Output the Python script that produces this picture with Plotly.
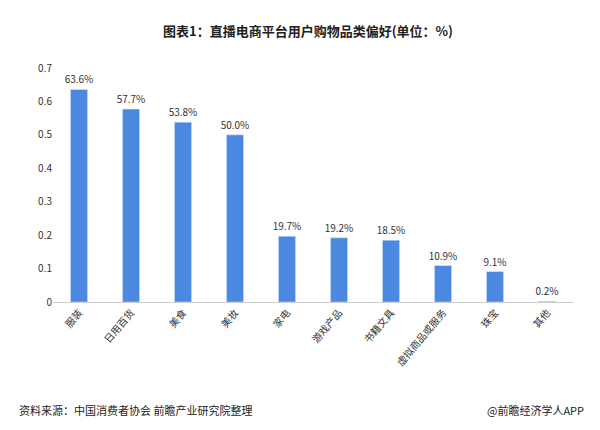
import plotly.graph_objects as go

categories = ["服装", "日用百货", "美食", "美妆", "家电", "游戏产品", "书籍文具", "虚拟商品或服务", "珠宝", "其他"]
values = [0.636, 0.577, 0.538, 0.500, 0.197, 0.192, 0.185, 0.109, 0.091, 0.002]
labels = ["63.6%", "57.7%", "53.8%", "50.0%", "19.7%", "19.2%", "18.5%", "10.9%", "9.1%", "0.2%"]
yticks = [0, 0.1, 0.2, 0.3, 0.4, 0.5, 0.6, 0.7]

fig = go.Figure(go.Bar(
    x=categories, y=values, text=labels, textposition="outside", constraintext="none",
    marker_color="#4A88E2", width=0.33, cliponaxis=False,
    textfont=dict(size=10, color="#333"),
))
fig.update_layout(
    width=600, height=430, plot_bgcolor="white", paper_bgcolor="white",
    font=dict(family="Noto Sans CJK SC", color="#333"),
    margin=dict(l=45, r=35, t=60, b=136, autoexpand=False),
    title=dict(text="<b>图表1：直播电商平台用户购物品类偏好(单位：%)</b>", x=0.5, y=0.955,
               xanchor="center", font=dict(size=13, color="#222")),
    showlegend=False, bargap=0.5,
)
fig.update_yaxes(range=[0, 0.7], tickvals=yticks, ticktext=["0", "0.1", "0.2", "0.3", "0.4", "0.5", "0.6", "0.7"],
                 showgrid=False, zeroline=False, showline=False, tickfont=dict(size=10), ticks="")
fig.update_xaxes(tickangle=-50, tickfont=dict(size=10), showline=True, linecolor="#ccc", ticks="")
fig.add_annotation(text="资料来源：中国消费者协会 前瞻产业研究院整理", xref="paper", yref="paper",
                   x=-0.07, y=-0.46, xanchor="left", yanchor="middle", showarrow=False, font=dict(size=11, color="#222"))
fig.add_annotation(text="@前瞻经济学人APP", xref="paper", yref="paper",
                   x=1.025, y=-0.46, xanchor="right", yanchor="middle", showarrow=False, font=dict(size=11, color="#222"))
fig.write_html("out.html")
